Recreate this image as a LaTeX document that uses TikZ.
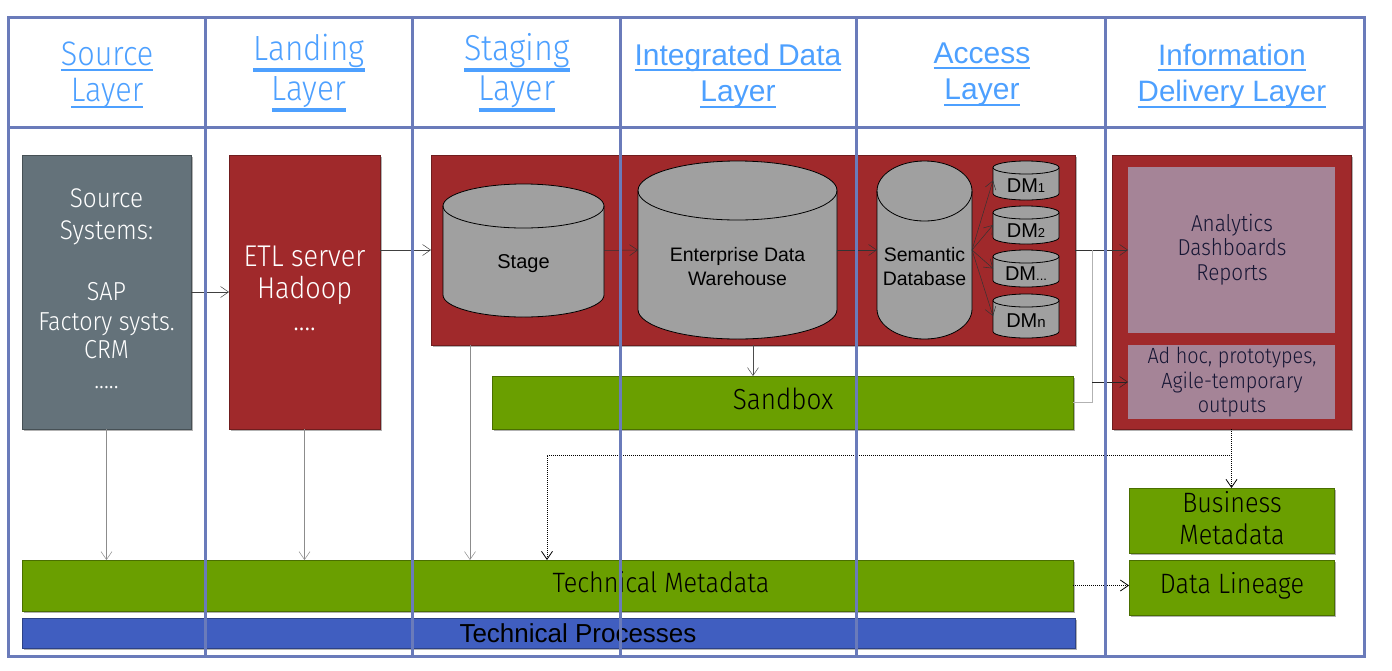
\documentclass[tikz,border=0pt]{standalone}
\usepackage{fontspec}
\setmainfont{Liberation Sans}
\newfontfamily\cond[FakeStretch=0.9, UprightFont=* Light]{Fira Sans}
\usetikzlibrary{arrows.meta,shadows,calc}
\definecolor{gridc}{RGB}{106,123,186}
\definecolor{hdr}{RGB}{77,160,255}
\definecolor{slate}{RGB}{100,114,122}
\definecolor{dred}{RGB}{160,41,43}
\definecolor{lgreen}{RGB}{106,159,0}
\definecolor{mauve}{RGB}{165,132,151}
\definecolor{cylg}{RGB}{160,160,160}
\definecolor{tpblue}{RGB}{64,94,192}
\definecolor{navy}{RGB}{22,22,52}
\newcommand\fs[1]{\fontsize{#1}{#1}\selectfont}
\newcommand\tline[5]{\node[txt,#4] (#1) at (#2,#3) {#5};}
\newcommand\hdrline[7]{\node[hdrtxt,font=#4] (#1) at (#2,#3) {#5};
  \draw[hdr, line width=#7] ($(#1.base west)+(0,#6)$) -- ($(#1.base east)+(0,#6)$);}
\newcommand\cyl[5]{%
  \pgfmathsetmacro\cylrx{(#2-#1)/2}%
  \filldraw[fill=cylg,draw=black,line width=0.8pt] (#1,#3+#5) -- (#1,#4-#5)
    arc[start angle=180,end angle=360,x radius=\cylrx pt,y radius=#5pt] -- (#2,#3+#5)
    arc[start angle=0,end angle=180,x radius=\cylrx pt,y radius=#5pt] -- cycle;
  \draw[black,line width=0.8pt] (#1,#3+#5) arc[start angle=180,end angle=360,x radius=\cylrx pt,y radius=#5pt];}
\begin{document}
\begin{tikzpicture}[x=1pt,y=-1pt,
  every node/.style={inner sep=0pt, outer sep=0pt},
  box/.style={line width=0.8pt, drop shadow={shadow xshift=1.5pt, shadow yshift=-1.5pt, opacity=0.3, fill=black}},
  txt/.style={anchor=base, inner sep=0pt},
  hdrtxt/.style={anchor=base, text=hdr},
  arr/.style={-{Straight Barb[length=8pt,width=11pt]}, line width=0.5pt},
  grayline/.style={draw=black!30, line width=1pt},
  dotarr/.style={-{Straight Barb[length=8pt,width=11pt]}, line width=0.8pt, dash pattern=on 1pt off 1pt},
  gridline/.style={draw=gridc, line width=3pt},
  cf/.style={font=\cond\fs{#1}},
  af/.style={font=\fs{#1}}
]
\useasboundingbox (0,0) rectangle (1392,670);
\fill[white] (0,0) rectangle (1392,670);

% ---------- headers ----------
\hdrline{h1a}{107}{65}{\cond\fs{34}}{Source}{5}{2.4pt}
\hdrline{h1b}{107}{101}{\cond\fs{34}}{Layer}{6}{2.4pt}
\hdrline{h2a}{309}{60}{\cond\fs{35}}{Landing}{9.5}{4pt}
\hdrline{h2b}{309}{100}{\cond\fs{35}}{Layer}{10}{4pt}
\hdrline{h3a}{517}{60}{\cond\fs{36}}{Staging}{9.5}{4pt}
\hdrline{h3b}{517}{100}{\cond\fs{36}}{Layer}{10}{4pt}
\hdrline{h4a}{738}{65}{\fs{30}}{Integrated Data\ }{5}{2.6pt}
\hdrline{h4b}{738}{101}{\fs{30}}{Layer}{6}{2.6pt}
\hdrline{h5a}{982}{63}{\fs{30}}{Access}{5}{2.6pt}
\hdrline{h5b}{982}{99}{\fs{30}}{Layer}{6}{2.6pt}
\hdrline{h6a}{1232}{65}{\fs{29.5}}{Information}{5}{2.6pt}
\hdrline{h6b}{1232}{101}{\fs{29.5}}{Delivery Layer}{6}{2.6pt}

% ---------- boxes ----------
\node[box, fill=slate, draw=slate!70!black, minimum width=169, minimum height=274] (src) at (106.5,292) {};
\node[box, fill=dred, draw=dred!70!black, minimum width=151, minimum height=274] (etl) at (304.5,292) {};
\node[box, fill=dred, draw=dred!70!black, minimum width=644, minimum height=190] (acc) at (753,250) {};
\node[box, fill=lgreen, draw=lgreen!70!black, minimum width=581, minimum height=53] (sandbox) at (782.5,402.5) {};
\node[box, fill=dred, draw=dred!70!black, minimum width=239, minimum height=274] (del) at (1231.5,292) {};
\node[fill=mauve, minimum width=207, minimum height=166] (ana) at (1231.5,250) {};
\node[fill=mauve, minimum width=207, minimum height=74] (adhoc) at (1231.5,382) {};
\node[box, fill=lgreen, draw=lgreen!70!black, minimum width=205, minimum height=65] (bm) at (1231.5,520.5) {};
\node[box, fill=lgreen, draw=lgreen!70!black, minimum width=205, minimum height=55] (dl) at (1231.5,587.5) {};
\node[box, fill=lgreen, draw=lgreen!70!black, minimum width=1051, minimum height=51] (tm) at (547.5,585.5) {};
\node[box, fill=tpblue, draw=tpblue!70!black, minimum width=1053, minimum height=30] (tp) at (548.5,633) {};

% ---------- cylinders ----------
\cyl{443}{604}{184}{317}{22}
\cyl{638}{837}{161}{339}{29.5}
\cyl{877}{972}{161}{339}{30}
\cyl{993}{1059}{161}{200}{6.5}
\cyl{993}{1059}{206}{244}{6.5}
\cyl{993}{1059}{250}{287}{6.5}
\cyl{993}{1059}{294}{338}{6.5}
\node[minimum width=161, minimum height=133] (stage) at (523.5,250.5) {};
\node[minimum width=199, minimum height=178] (edw) at (737.5,250) {};
\node[minimum width=95, minimum height=178] (sem) at (924.5,250) {};
\node[minimum width=66, minimum height=39] (dm1) at (1026,180.5) {};
\node[minimum width=66, minimum height=38] (dm2) at (1026,225) {};
\node[minimum width=66, minimum height=37] (dm3) at (1026,268.5) {};
\node[minimum width=66, minimum height=44] (dm4) at (1026,316) {};

% ---------- texts ----------
\tline{s1}{106.5}{207}{cf=27,text=white}{Source}
\tline{s2}{106.5}{239}{cf=27,text=white}{Systems:}
\tline{s3}{106.5}{300}{cf=26,text=white}{SAP}
\tline{s4}{106.5}{330}{cf=26,text=white}{Factory systs.}
\tline{s5}{106.5}{358}{cf=26,text=white}{CRM}
\tline{s6}{106.5}{388}{cf=26,text=white}{.....}
\tline{e1}{304.5}{266}{cf=30,text=white}{ETL server}
\tline{e2}{304.5}{298}{cf=30,text=white}{Hadoop}
\tline{e3}{304.5}{330}{cf=30,text=white}{....}
\tline{t1}{523.5}{268}{af=20}{Stage}
\tline{t2}{737.5}{261}{af=19.5}{Enterprise Data}
\tline{t3}{737.5}{285}{af=19.5}{Warehouse}
\tline{t4}{924.5}{261}{af=19.5}{Semantic}
\tline{t5}{924.5}{285}{af=19.5}{Database}
\tline{d1}{1026}{192}{af=20}{DM{\fs{13}1}}
\tline{d2}{1026}{237}{af=20}{DM{\fs{13}2}}
\tline{d3}{1026}{280}{af=20}{DM{\fs{13}...}}
\tline{d4}{1026}{327}{af=20}{DM{\fs{15}n}}
\tline{sb}{783}{409}{cf=29}{Sandbox}
\tline{a1}{1232}{231}{cf=23,text=navy}{Analytics}
\tline{a2}{1232}{255}{cf=23,text=navy}{Dashboards}
\tline{a3}{1232}{280}{cf=23,text=navy}{Reports}
\tline{a4}{1232}{363}{cf=22,text=navy}{Ad hoc, prototypes,}
\tline{a5}{1232}{388}{cf=22,text=navy}{Agile-temporary}
\tline{a6}{1232}{412}{cf=22,text=navy}{outputs}
\tline{b1}{1232}{512}{cf=28}{Business}
\tline{b2}{1232}{544}{cf=28}{Metadata}
\tline{l1}{1232}{593}{cf=28}{Data Lineage}
\tline{m1}{661}{592}{cf=28}{Technical Metadata}
\tline{p1}{578}{642}{af=26}{Technical Processes}

% ---------- connectors ----------
\draw[arr, draw=black!75] (src.east) -- (etl.west);
\draw[arr, draw=black!75] (etl.east |- acc.west) -- (acc.west);
\draw[arr, draw=black!80] (stage.east) -- (edw.west);
\draw[arr, draw=black!80] (edw.east) -- (sem.west);
\foreach \d in {dm1,dm2,dm3,dm4} \draw[arr, draw=black!80] (sem.east) -- (\d.west);
\draw[arr, draw=black!80] (acc.east) -- (ana.west);
\coordinate (jn) at (1092,250);
\draw[grayline] (sandbox.east) -| (jn);
\draw[arr, draw=black!85] (jn |- adhoc.west) -- (adhoc.west);
\draw[arr, draw=black!70] (acc.south) -- (acc.south |- sandbox.north);
\draw[arr, draw=black!45] (src.south) -- (src.south |- tm.north);
\draw[arr, draw=black!45] (etl.south) -- (etl.south |- tm.north);
\coordinate (accl) at (470,345);
\draw[arr, draw=black!45] (accl) -- (accl |- tm.north);
\draw[dotarr] (del.south) -- (bm.north);
\coordinate (dj) at (1232,455);
\coordinate (tmd) at (547,560);
\draw[dotarr] (dj) -| (tmd);
\draw[dotarr] (tm.east) -- (tm.east -| dl.west);

% ---------- grid ----------
\draw[gridline] (8,17) rectangle (1364,656);
\draw[gridline] (8,127) -- (1364,127);
\foreach \gx in {205,412,620,856,1105} \draw[gridline] (\gx,17) -- (\gx,656);
\end{tikzpicture}
\end{document}
